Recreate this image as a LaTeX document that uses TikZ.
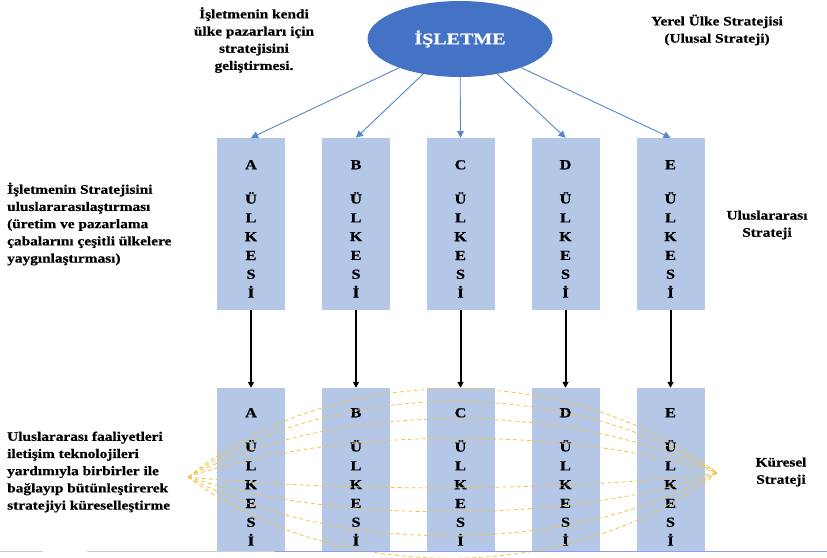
\documentclass[tikz,border=0pt]{standalone}
\usepackage{fontspec}
\setmainfont{Liberation Serif}
\newfontfamily\lblfont[FakeStretch=1.18,BoldFeatures={FakeBold=0.6}]{Liberation Serif}
\newfontfamily\ellfont[FakeStretch=1.25,BoldFeatures={FakeBold=0.6}]{Liberation Serif}
\usetikzlibrary{shapes.geometric,arrows.meta}
\definecolor{ellblue}{HTML}{4472C4}
\definecolor{boxblue}{HTML}{B4C7E7}
\definecolor{arrblue}{HTML}{5A86C8}
\definecolor{goldline}{HTML}{F2C444}
\begin{document}
\begin{tikzpicture}[x=1pt,y=-1pt,
  cbox/.style={draw=none,fill=boxblue,minimum width=68pt,inner sep=0pt},
  letters/.style={align=center,font=\lblfont\bfseries\fontsize{13.8}{18.8}\selectfont,inner sep=0pt},
  lbl/.style={font=\lblfont\bfseries\fontsize{13}{17.2}\selectfont,inner sep=0pt},
  bluearrow/.style={draw=arrblue,line width=0.9pt,-{Triangle[length=7pt,width=7pt]}},
  blackarrow/.style={draw=black,line width=2pt,-{Triangle[length=6pt,width=6pt]}},
  golddash/.style={draw=goldline,line width=0.8pt,dash pattern=on 4pt off 3pt}]
\useasboundingbox (0,0) rectangle (827,557);
\fill[white] (0,0) rectangle (827,557);

% central ellipse
\node[ellipse,fill=ellblue,minimum width=185pt,minimum height=76pt,inner sep=0pt,
  font=\ellfont\bfseries\fontsize{16}{20}\selectfont,text=white] (ell) at (460,39) {İŞLETME};

% country boxes
\foreach \n/\x in {A/251,B/356,C/460.5,D/565.5,E/670.5}{
  \node[cbox,minimum height=172pt] (top\n) at (\x,224) {};
  \node[cbox,minimum height=164pt] (bot\n) at (\x,470) {};
}
\foreach \n/\x in {A/251,B/356,C/460.5,D/565.5,E/670.5}{
  \node[letters,anchor=north] (tl\n) at (\x,160) {\n\\[15.5pt]Ü\\L\\K\\E\\S\\İ};
  \node[letters,anchor=north] (bl\n) at (\x,408) {\n\\[15.5pt]Ü\\L\\K\\E\\S\\İ};
}

% arrows from the ellipse
\foreach \n in {A,B,C,D,E}{
  \draw[bluearrow] (ell) -- (top\n.north);
  \draw[blackarrow] (top\n.south) -- (bot\n.north);
}

% dashed global links
\coordinate (L) at (188,477);
\coordinate (R) at (717,473);
\foreach \c in {360,377,400,426,492,524,556,586}{
  \draw[golddash] (L) .. controls (335,\c) and (570,\c) .. (R);
}

% labels
\node[lbl,align=center] (t1) at (254,40) {İşletmenin kendi\\ülke pazarları için\\stratejisini\\geliştirmesi.};
\node[lbl,align=center] (t2) at (717,30) {Yerel Ülke Stratejisi\\(Ulusal Strateji)};
\node[lbl,align=left,anchor=west] (t3) at (7,224) {İşletmenin Stratejisini\\uluslararasılaştırması\\(üretim ve pazarlama\\çabalarını çeşitli ülkelere\\yaygınlaştırması)};
\node[lbl,align=center] (t4) at (767,225) {Uluslararası\\Strateji};
\node[lbl,align=left,anchor=west] (t5) at (7,472) {Uluslararası faaliyetleri\\iletişim teknolojileri\\yardımıyla birbirler ile\\bağlayıp bütünleştirerek\\stratejiyi küreselleştirme};
\node[lbl,align=center] (t6) at (781,472) {Küresel\\Strateji};

% page edge
\draw[gray!40,line width=0.8pt] (0,551) -- (43,551) (87,551) -- (275,551);
\draw[boxblue!80!blue,line width=0.8pt] (275,551) -- (827,551);
\end{tikzpicture}
\end{document}
